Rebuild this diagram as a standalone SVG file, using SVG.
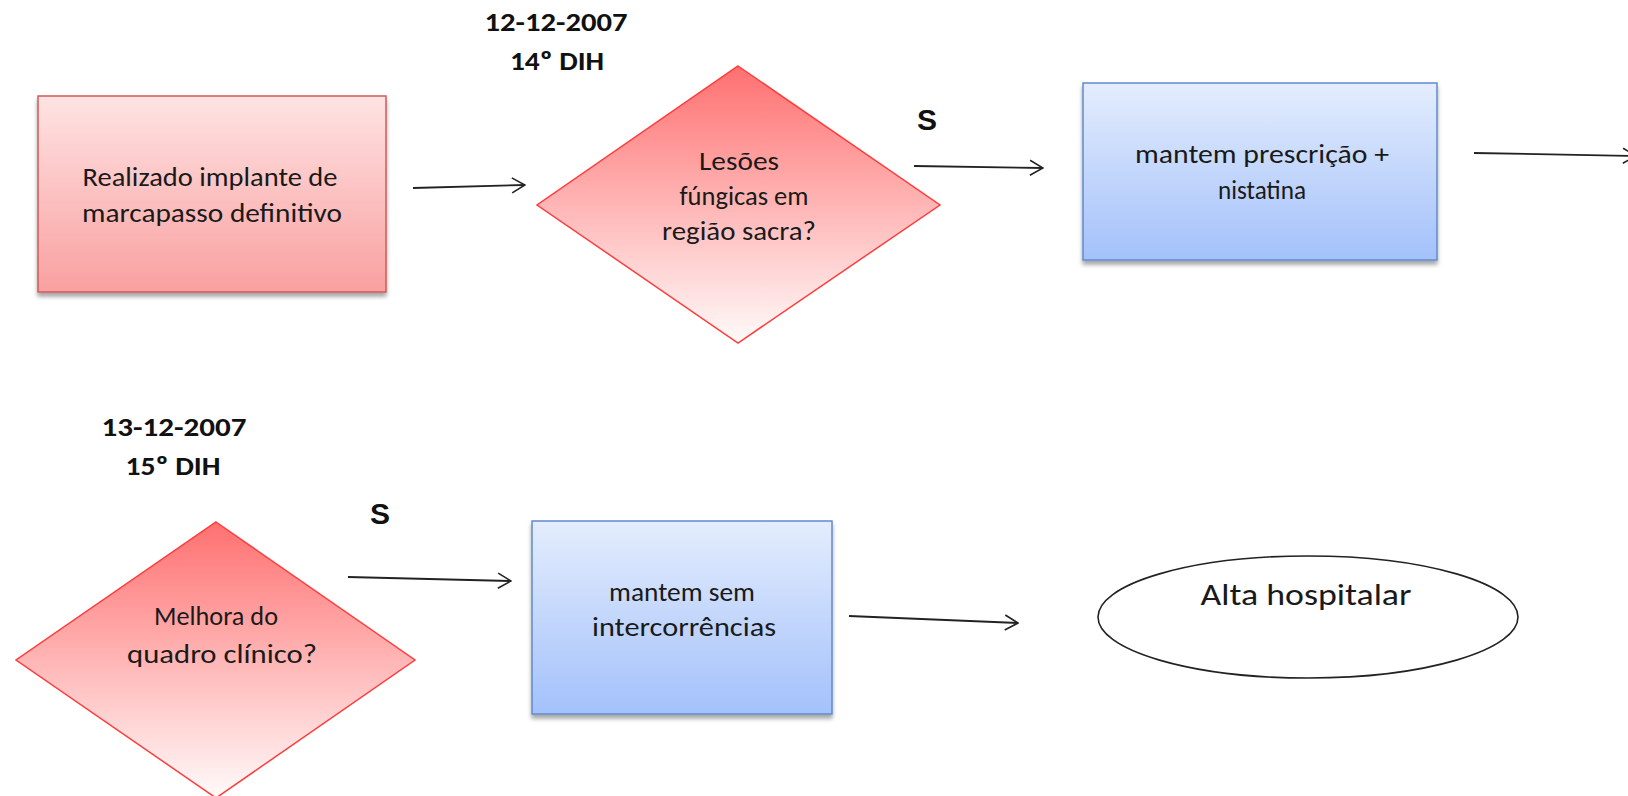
<svg xmlns="http://www.w3.org/2000/svg" width="1628" height="796" viewBox="0 0 1628 796">
  <defs>
    <linearGradient id="gRedBox" x1="0" y1="0" x2="0" y2="1">
      <stop offset="0" stop-color="#ffe3e3"/>
      <stop offset="1" stop-color="#f9a0a0"/>
    </linearGradient>
    <linearGradient id="gRedDiamond" x1="0" y1="0" x2="0" y2="1">
      <stop offset="0" stop-color="#ff7070"/>
      <stop offset="1" stop-color="#fffafa"/>
    </linearGradient>
    <linearGradient id="gBlue" x1="0" y1="0" x2="0" y2="1">
      <stop offset="0" stop-color="#e4edfd"/>
      <stop offset="1" stop-color="#a3c1fb"/>
    </linearGradient>
    <filter id="shadow" x="-5%" y="-5%" width="110%" height="115%">
      <feDropShadow dx="0" dy="4" stdDeviation="2" flood-color="#000" flood-opacity="0.35"/>
    </filter>
    <marker id="arrow" viewBox="0 0 16 18" refX="15" refY="9" markerWidth="16" markerHeight="18" markerUnits="userSpaceOnUse" orient="auto">
      <path d="M2,1.5 L15,9 L2,16.5" fill="none" stroke="#222" stroke-width="1.6"/>
    </marker>
  </defs>
  <style>
    .txt { font-family: "Carlito", "Liberation Sans Narrow", "Liberation Sans", sans-serif; font-size: 27px; fill: #1a1a1a; text-anchor: middle; }
    .date { font-family: "Carlito", "Liberation Sans Narrow", "Liberation Sans", sans-serif; font-size: 27px; font-weight: bold; fill: #111; text-anchor: middle; }
    .yes { font-family: "Liberation Sans", Arial, sans-serif; font-size: 30px; font-weight: bold; fill: #111; text-anchor: middle; }
    .redbox { fill: url(#gRedBox); stroke: #cf5a5a; stroke-width: 1.5; filter: url(#shadow); }
    .diamond { fill: url(#gRedDiamond); stroke: #ff3c3c; stroke-width: 1.5; }
    .bluebox { fill: url(#gBlue); stroke: #5f8bd0; stroke-width: 1.5; filter: url(#shadow); }
    .conn { fill: none; stroke: #222; stroke-width: 1.8; marker-end: url(#arrow); }
  </style>

  <rect width="1628" height="796" fill="#ffffff"/>

  <!-- day labels -->
  <g id="label-day14">
    <text class="date" x="556" y="31" textLength="143" lengthAdjust="spacingAndGlyphs">12-12-2007</text>
    <text class="date" x="557" y="70" textLength="94" lengthAdjust="spacingAndGlyphs">14º DIH</text>
  </g>
  <g id="label-day15">
    <text class="date" x="174" y="436" textLength="145" lengthAdjust="spacingAndGlyphs">13-12-2007</text>
    <text class="date" x="173" y="475" textLength="95" lengthAdjust="spacingAndGlyphs">15º DIH</text>
  </g>

  <!-- connectors -->
  <g id="connectors">
    <path class="conn" d="M413,188 L525,185"/>
    <path class="conn" d="M914,166 L1043,168"/>
    <path class="conn" d="M1474,153 L1636,156"/>
    <path class="conn" d="M348,577 L511,581"/>
    <path class="conn" d="M849,616 L1018,623"/>
    <text class="yes" x="927" y="130">S</text>
    <text class="yes" x="380" y="524">S</text>
  </g>

  <!-- nodes -->
  <g id="node-implante">
    <rect class="redbox" x="38" y="96" width="348" height="196"/>
    <text class="txt" x="210" y="186" textLength="255" lengthAdjust="spacingAndGlyphs">Realizado implante de</text>
    <text class="txt" x="212" y="222" textLength="260" lengthAdjust="spacingAndGlyphs">marcapasso definitivo</text>
  </g>

  <g id="node-lesoes">
    <polygon class="diamond" points="738,66 940,205 738,343 537,205"/>
    <text class="txt" x="739" y="170" textLength="80" lengthAdjust="spacingAndGlyphs">Lesões</text>
    <text class="txt" x="744" y="205" textLength="129" lengthAdjust="spacingAndGlyphs">fúngicas em</text>
    <text class="txt" x="739" y="240" textLength="154" lengthAdjust="spacingAndGlyphs">região sacra?</text>
  </g>

  <g id="node-prescricao">
    <rect class="bluebox" x="1083" y="83" width="354" height="177"/>
    <text class="txt" x="1262" y="163" textLength="254" lengthAdjust="spacingAndGlyphs">mantem prescrição +</text>
    <text class="txt" x="1262" y="199" textLength="88" lengthAdjust="spacingAndGlyphs">nistatina</text>
  </g>

  <g id="node-melhora">
    <polygon class="diamond" points="216,522 415,660 216,798 16,660"/>
    <text class="txt" x="216" y="625" textLength="124" lengthAdjust="spacingAndGlyphs">Melhora do</text>
    <text class="txt" x="222" y="663" textLength="190" lengthAdjust="spacingAndGlyphs">quadro clínico?</text>
  </g>

  <g id="node-sem-intercorrencias">
    <rect class="bluebox" x="532" y="521" width="300" height="193"/>
    <text class="txt" x="682" y="601" textLength="146" lengthAdjust="spacingAndGlyphs">mantem sem</text>
    <text class="txt" x="684" y="636" textLength="184" lengthAdjust="spacingAndGlyphs">intercorrências</text>
  </g>

  <g id="node-alta">
    <ellipse cx="1308" cy="617" rx="210" ry="61" fill="#ffffff" stroke="#222" stroke-width="1.6"/>
    <text class="txt" x="1306" y="605" style="font-size:31px" textLength="211" lengthAdjust="spacingAndGlyphs">Alta hospitalar</text>
  </g>
</svg>
